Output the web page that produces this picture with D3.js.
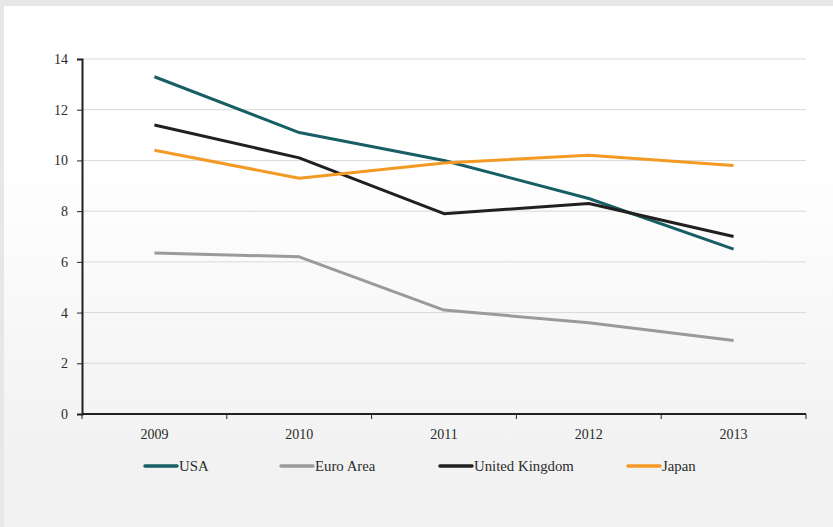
<!DOCTYPE html>
<html>
  <head>
    <meta charset="UTF-8" />
    <title>Line chart 2009-2013</title>
    <style>
      body,
      html {
        margin: 0;
        padding: 0;
        overflow: hidden;
        background: #e6e7e9;
      }
      #chart {
        display: block;
      }
      .axis text {
        font-family: "Liberation Serif", serif;
        font-size: 14px;
        fill: #2b2b2b;
      }
      .legend text {
        font-family: "Liberation Serif", serif;
        font-size: 14.8px;
        fill: #2b2b2b;
      }
    </style>
  </head>
  <body>
    <svg id="chart"></svg>
    <script src="https://d3js.org/d3.v7.min.js"></script>
    <script>
      const years = ["2009", "2010", "2011", "2012", "2013"];
      const usa = [13.3, 11.1, 10.0, 8.5, 6.5];
      const euroArea = [6.35, 6.2, 4.1, 3.6, 2.9];
      const unitedKingdom = [11.4, 10.1, 7.9, 8.3, 7.0];
      const japan = [10.4, 9.3, 9.9, 10.2, 9.8];
      const yTicks = [0, 2, 4, 6, 8, 10, 12, 14];

      const series = [
        { name: "USA", values: usa, color: "#175e65" },
        { name: "Euro Area", values: euroArea, color: "#9a9a9a" },
        { name: "United Kingdom", values: unitedKingdom, color: "#231f20" },
        { name: "Japan", values: japan, color: "#f39a24" },
      ];

      const width = 833;
      const height = 527;
      const margin = { top: 59, left: 82, right: 27, bottom: 113 };

      const svg = d3.select("#chart").attr("width", width).attr("height", height);

      // panel background: white fading to light grey
      const defs = svg.append("defs");
      const grad = defs
        .append("linearGradient")
        .attr("id", "bg")
        .attr("x1", 0)
        .attr("y1", 0)
        .attr("x2", 0)
        .attr("y2", 1);
      grad.append("stop").attr("offset", "0.3").attr("stop-color", "#ffffff");
      grad.append("stop").attr("offset", "0.85").attr("stop-color", "#f2f2f2");

      svg
        .append("rect")
        .attr("x", 4)
        .attr("y", 6)
        .attr("width", width - 4)
        .attr("height", height - 6)
        .attr("fill", "url(#bg)");

      const x = d3
        .scaleBand()
        .domain(years)
        .range([margin.left, width - margin.right]);

      const y = d3
        .scaleLinear()
        .domain([0, 14])
        .range([height - margin.bottom, margin.top]);

      // gridlines
      svg
        .append("g")
        .selectAll("line")
        .data(yTicks.filter((d) => d > 0))
        .join("line")
        .attr("x1", margin.left)
        .attr("x2", width - margin.right)
        .attr("y1", (d) => y(d))
        .attr("y2", (d) => y(d))
        .attr("stroke", "#d9d9d9")
        .attr("stroke-width", 1);

      // y axis
      const yAxis = svg
        .append("g")
        .attr("class", "axis")
        .attr("transform", `translate(${margin.left},0)`)
        .call(d3.axisLeft(y).tickValues(yTicks).tickSize(5).tickPadding(9));
      yAxis.select(".domain").attr("stroke", "#231f20").attr("stroke-width", 2);
      yAxis.selectAll(".tick line").attr("stroke", "#231f20");

      // x axis with ticks at band edges
      const xAxis = svg
        .append("g")
        .attr("class", "axis")
        .attr("transform", `translate(0,${height - margin.bottom})`);
      xAxis
        .append("line")
        .attr("x1", margin.left)
        .attr("x2", width - margin.right)
        .attr("stroke", "#231f20")
        .attr("stroke-width", 2);
      const edges = years.map((d) => x(d)).concat([x(years[years.length - 1]) + x.bandwidth()]);
      xAxis
        .selectAll(".edge")
        .data(edges)
        .join("line")
        .attr("class", "edge")
        .attr("x1", (d) => d)
        .attr("x2", (d) => d)
        .attr("y1", 0)
        .attr("y2", 5)
        .attr("stroke", "#231f20");
      xAxis
        .selectAll("text")
        .data(years)
        .join("text")
        .attr("x", (d) => x(d) + x.bandwidth() / 2)
        .attr("y", 25)
        .attr("text-anchor", "middle")
        .text((d) => d);

      // lines
      const line = d3
        .line()
        .x((d, i) => x(years[i]) + x.bandwidth() / 2)
        .y((d) => y(d));

      svg
        .append("g")
        .selectAll("path")
        .data(series)
        .join("path")
        .attr("d", (d) => line(d.values))
        .attr("fill", "none")
        .attr("stroke", (d) => d.color)
        .attr("stroke-width", 3)
        .attr("stroke-linejoin", "round");

      // legend
      const legendX = [145, 281, 440, 628];
      const legend = svg
        .append("g")
        .attr("class", "legend")
        .selectAll("g")
        .data(series)
        .join("g")
        .attr("transform", (d, i) => `translate(${legendX[i]},466)`);
      legend
        .append("line")
        .attr("x1", 0)
        .attr("x2", 32)
        .attr("stroke", (d) => d.color)
        .attr("stroke-width", 3.5)
        .attr("stroke-linecap", "round");
      legend
        .append("text")
        .attr("x", 34)
        .attr("dy", "0.35em")
        .text((d) => d.name);
    </script>
  </body>
</html>
